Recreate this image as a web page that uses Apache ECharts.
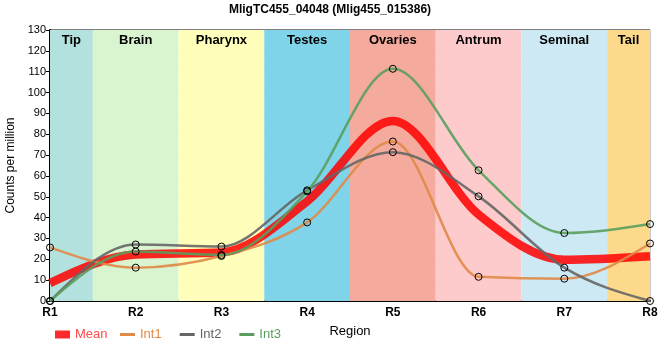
<!DOCTYPE html>
<html><head><meta charset="utf-8">
<script src="https://cdn.jsdelivr.net/npm/echarts@6/dist/echarts.min.js"></script>
<style>html,body{margin:0;padding:0;background:#fff}#c{width:660px;height:360px}</style>
</head><body><div id="c"></div>
<script>
const categories = ['R1','R2','R3','R4','R5','R6','R7','R8'];
const int1 = [25.7, 16.0, 21.6, 37.7, 76.5, 11.6, 10.7, 27.6];
const int2 = [0, 27.1, 26.1, 53.1, 71.4, 50.2, 16.0, 0];
const int3 = [0, 23.7, 22.1, 52.6, 111.4, 62.7, 32.6, 36.9];
const meanVals = [8.6, 22.3, 23.3, 47.8, 86.4, 41.5, 19.8, 21.5];
const bandNames = ['Tip','Brain','Pharynx','Testes','Ovaries','Antrum','Seminal','Tail'];
const bandStarts = [1, 1.5, 2.5, 3.5, 4.5, 5.5, 6.5, 7.5];
const bandEnds = [1.5, 2.5, 3.5, 4.5, 5.5, 6.5, 7.5, 8];
const bandColors = ['#b3e2de','#d8f5d0','#ffffbb','#7fd4ea','#f4ab9d','#fdcbcb','#cdeaf4','#fdd98b'];
const FONT = 'Liberation Sans, Arial, sans-serif';

const toXY = arr => arr.map((v, i) => [i + 1, v]);
const sign = v => v < 0 ? -1 : 1;
// monotone cubic path through pixel points
function monoPath(p) {
  const n = p.length, t = new Array(n);
  for (let i = 1; i < n - 1; i++) {
    const h0 = p[i][0] - p[i-1][0], h1 = p[i+1][0] - p[i][0];
    const s0 = (p[i][1] - p[i-1][1]) / h0, s1 = (p[i+1][1] - p[i][1]) / h1;
    const q = (s0 * h1 + s1 * h0) / (h0 + h1);
    t[i] = (sign(s0) + sign(s1)) * Math.min(Math.abs(s0), Math.abs(s1), 0.5 * Math.abs(q)) || 0;
  }
  const e = (a, b, tt) => { const h = b[0] - a[0]; return (3 * (b[1] - a[1]) / h - tt) / 2; };
  t[0] = e(p[0], p[1], t[1]);
  t[n-1] = e(p[n-2], p[n-1], t[n-2]);
  let d = 'M' + p[0][0] + ',' + p[0][1];
  for (let i = 0; i < n - 1; i++) {
    const dx = (p[i+1][0] - p[i][0]) / 3;
    d += 'C' + (p[i][0] + dx) + ',' + (p[i][1] + dx * t[i]) + ',' +
         (p[i+1][0] - dx) + ',' + (p[i+1][1] - dx * t[i+1]) + ',' + p[i+1][0] + ',' + p[i+1][1];
  }
  return d;
}
const curve = (name, vals, color, width, opacity, z) => ({
  name, type: 'custom', data: toXY(vals), z, silent: true,
  renderItem: (params, api) => {
    if (params.dataIndex !== 0) return null;
    const pts = vals.map((v, i) => api.coord([i + 1, v]));
    return { type: 'path', shape: { pathData: monoPath(pts) },
      style: { fill: 'none', stroke: color, lineWidth: width, opacity: opacity, lineJoin: 'round' } };
  }
});
const dots = (name, vals) => ({
  name: name + '_pts', type: 'scatter', data: toXY(vals), symbol: 'circle', symbolSize: 7, z: 5, silent: true,
  itemStyle: { color: 'rgba(0,0,0,0)', borderColor: '#000', borderWidth: 1, opacity: 1 }
});
const lineIcon = 'path://M0,0H15V3H0Z';

const chart = echarts.init(document.getElementById('c'));
chart.setOption({
  animation: false,
  textStyle: { fontFamily: FONT },
  title: { text: 'MligTC455_04048 (Mlig455_015386)', left: 'center', top: -1,
    textStyle: { fontSize: 12, fontWeight: 'bold', color: '#000', fontFamily: FONT } },
  grid: { left: 50, right: 10, top: 30, bottom: 59, outerBoundsMode: 'none', containLabel: false,
    show: true, borderColor: '#000', borderWidth: 1, backgroundColor: 'transparent' },
  legend: [{
    left: 50, top: 323, itemWidth: 15, itemHeight: 8, itemGap: 18, selectedMode: false,
    textStyle: { fontSize: 13, fontFamily: FONT },
    data: [
      { name: 'Mean', icon: 'rect', itemStyle: { color: '#ff2a2a', borderWidth: 0 }, textStyle: { color: '#ff4a4a' } }
    ]
  }, {
    left: 115, top: 323, itemWidth: 15, itemHeight: 8, itemGap: 18, selectedMode: false,
    textStyle: { fontSize: 13, fontFamily: FONT },
    data: [
      { name: 'Int1', icon: lineIcon, itemStyle: { color: '#e08a48', borderWidth: 0 }, textStyle: { color: '#e08a48' } },
      { name: 'Int2', icon: lineIcon, itemStyle: { color: '#666666', borderWidth: 0 }, textStyle: { color: '#666666' } },
      { name: 'Int3', icon: lineIcon, itemStyle: { color: '#5a9e5e', borderWidth: 0 }, textStyle: { color: '#5a9e5e' } }
    ]
  }],
  xAxis: {
    type: 'value', min: 1, max: 8, interval: 1,
    name: 'Region', nameLocation: 'middle', nameGap: 24,
    nameTextStyle: { fontSize: 13, color: '#000' },
    axisLine: { lineStyle: { color: '#000', width: 2 } },
    axisTick: { show: false },
    axisLabel: { formatter: v => categories[v - 1] || '', color: '#000', fontSize: 12, fontWeight: 'bold', margin: 6 },
    splitLine: { show: true, lineStyle: { color: '#c8c8c8', width: 1 } }
  },
  yAxis: {
    type: 'value', min: 0, max: 130, interval: 10,
    name: 'Counts per million', nameLocation: 'middle', nameGap: 26,
    nameTextStyle: { fontSize: 12, color: '#000' },
    axisLine: { show: true, lineStyle: { color: '#000', width: 2 } },
    axisTick: { show: true, length: 4, lineStyle: { color: '#000' } },
    axisLabel: { color: '#000', fontSize: 11, margin: 4 },
    splitLine: { show: true, lineStyle: { color: '#c8c8c8', width: 1 } }
  },
  series: [
    {
      name: 'bands', type: 'line', data: [], z: -5, silent: true,
      markArea: {
        silent: true,
        label: { position: 'insideTop', distance: 4, color: '#000', fontSize: 13, fontWeight: 'bold', fontFamily: FONT },
        data: bandNames.map((n, i) => [
          { name: n, xAxis: bandStarts[i], yAxis: 130, itemStyle: { color: bandColors[i], opacity: 1 } },
          { xAxis: bandEnds[i], yAxis: 0 }
        ])
      }
    },
    curve('Mean', meanVals, '#ff0000', 8.5, 0.85, 2),
    curve('Int1', int1, '#e08a48', 2.5, 0.9, 3),
    curve('Int2', int2, '#666666', 2.5, 0.9, 3),
    curve('Int3', int3, '#5a9e5e', 2.5, 0.9, 3),
    dots('Int1', int1),
    dots('Int2', int2),
    dots('Int3', int3)
  ]
});
</script></body></html>
